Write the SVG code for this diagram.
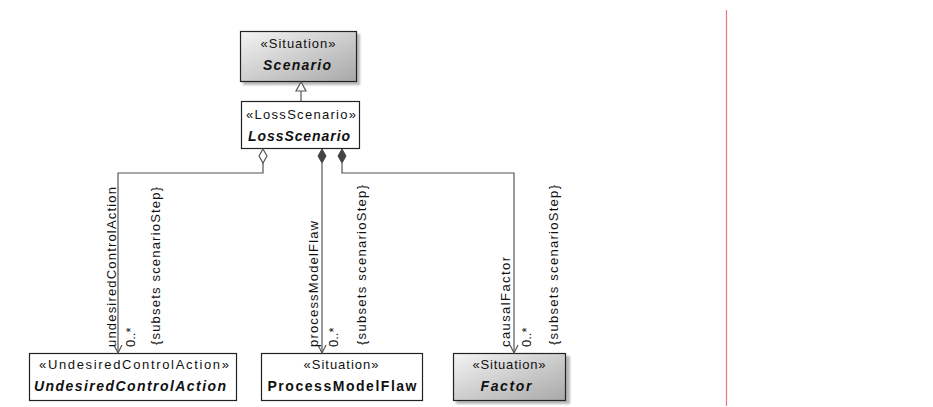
<svg xmlns="http://www.w3.org/2000/svg" width="933" height="407" viewBox="0 0 933 407">
<defs>
<linearGradient id="gray" x1="0" y1="0" x2="1" y2="1">
<stop offset="0" stop-color="#f4f4f4"/>
<stop offset="1" stop-color="#a8a8a8"/>
</linearGradient>
<filter id="blur" x="-10%" y="-10%" width="130%" height="130%"><feGaussianBlur stdDeviation="1"/></filter>
</defs>
<style>
text{font-family:"Liberation Sans",Arial,sans-serif;font-size:13px;fill:#111}
.st{text-anchor:middle}
.nm{text-anchor:middle;font-weight:bold;font-size:14px}
.it{font-style:italic}
.box{stroke:#222;stroke-width:1.2}
.white{fill:#fff}
.grad{fill:url(#gray)}
.shadow{fill:#888;opacity:0.6;filter:url(#blur)}
.ln{fill:none;stroke:#555;stroke-width:1.2}
.lbl{text-anchor:start}
</style>
<rect x="0" y="0" width="933" height="407" fill="#fff"/>
<line x1="726.5" y1="10" x2="726.5" y2="406" stroke="#e27a80" stroke-width="1.2"/>

<g id="Scenario">
<rect class="shadow" x="243" y="34" width="117" height="51"/>
<rect class="box grad" x="240.5" y="31.5" width="116" height="50"/>
<text class="st" x="298" y="48" textLength="75">«Situation»</text>
<text class="nm it" x="297" y="70" textLength="68">Scenario</text>
</g>

<g id="LossScenario">
<rect class="box white" x="241.5" y="101.5" width="118" height="47"/>
<text class="st" x="301" y="119" textLength="110">«LossScenario»</text>
<text class="nm it" x="299" y="141" textLength="102">LossScenario</text>
</g>

<g id="UndesiredControlAction">
<rect class="box white" x="29.5" y="353.5" width="207" height="47"/>
<text class="st" x="134" y="369" textLength="190">«UndesiredControlAction»</text>
<text class="nm it" x="130" y="391" textLength="192">UndesiredControlAction</text>
</g>

<g id="ProcessModelFlaw">
<rect class="box white" x="261.5" y="353.5" width="161" height="47"/>
<text class="st" x="341" y="369" textLength="75">«Situation»</text>
<text class="nm" x="342" y="391" textLength="149">ProcessModelFlaw</text>
</g>

<g id="Factor">
<rect class="shadow" x="456" y="356" width="114" height="48"/>
<rect class="box grad" x="453.5" y="353.5" width="112" height="47"/>
<text class="st" x="509" y="369" textLength="73">«Situation»</text>
<text class="nm it" x="506" y="391" textLength="51">Factor</text>
</g>

<g id="connectors">
<!-- generalization -->
<line class="ln" x1="301" y1="91" x2="301" y2="101"/>
<polygon points="301,82 296,91 306,91" fill="#fff" stroke="#555" stroke-width="1.2"/>

<!-- undesiredControlAction -->
<polyline class="ln" points="263,163 263,173 118,173 118,353"/>
<polygon points="263,149 267,156 263,163 259,156" fill="#fff" stroke="#555" stroke-width="1.2"/>
<polyline class="ln" points="114,345 118,353 122,345"/>
<text class="lbl" transform="translate(116,347) rotate(-90)" textLength="160">undesiredControlAction</text>
<text class="lbl" transform="translate(135,347) rotate(-90)">0..*</text>
<text class="lbl" transform="translate(160,345) rotate(-90)" textLength="158">{subsets scenarioStep}</text>

<!-- processModelFlaw -->
<line class="ln" x1="322" y1="163" x2="322" y2="353"/>
<polygon points="322,149 326,156 322,163 318,156" fill="#444" stroke="#444" stroke-width="1"/>
<polyline class="ln" points="318,345 322,353 326,345"/>
<text class="lbl" transform="translate(318,347) rotate(-90)" textLength="126">processModelFlaw</text>
<text class="lbl" transform="translate(338,347) rotate(-90)">0..*</text>
<text class="lbl" transform="translate(366,345) rotate(-90)" textLength="160">{subsets scenarioStep}</text>

<!-- causalFactor -->
<polyline class="ln" points="342,163 342,173 514,173 514,353"/>
<polygon points="342,149 346,156 342,163 338,156" fill="#444" stroke="#444" stroke-width="1"/>
<polyline class="ln" points="510,345 514,353 518,345"/>
<text class="lbl" transform="translate(510,347) rotate(-90)" textLength="90">causalFactor</text>
<text class="lbl" transform="translate(531,347) rotate(-90)">0..*</text>
<text class="lbl" transform="translate(558,345) rotate(-90)" textLength="160">{subsets scenarioStep}</text>
</g>
</svg>
